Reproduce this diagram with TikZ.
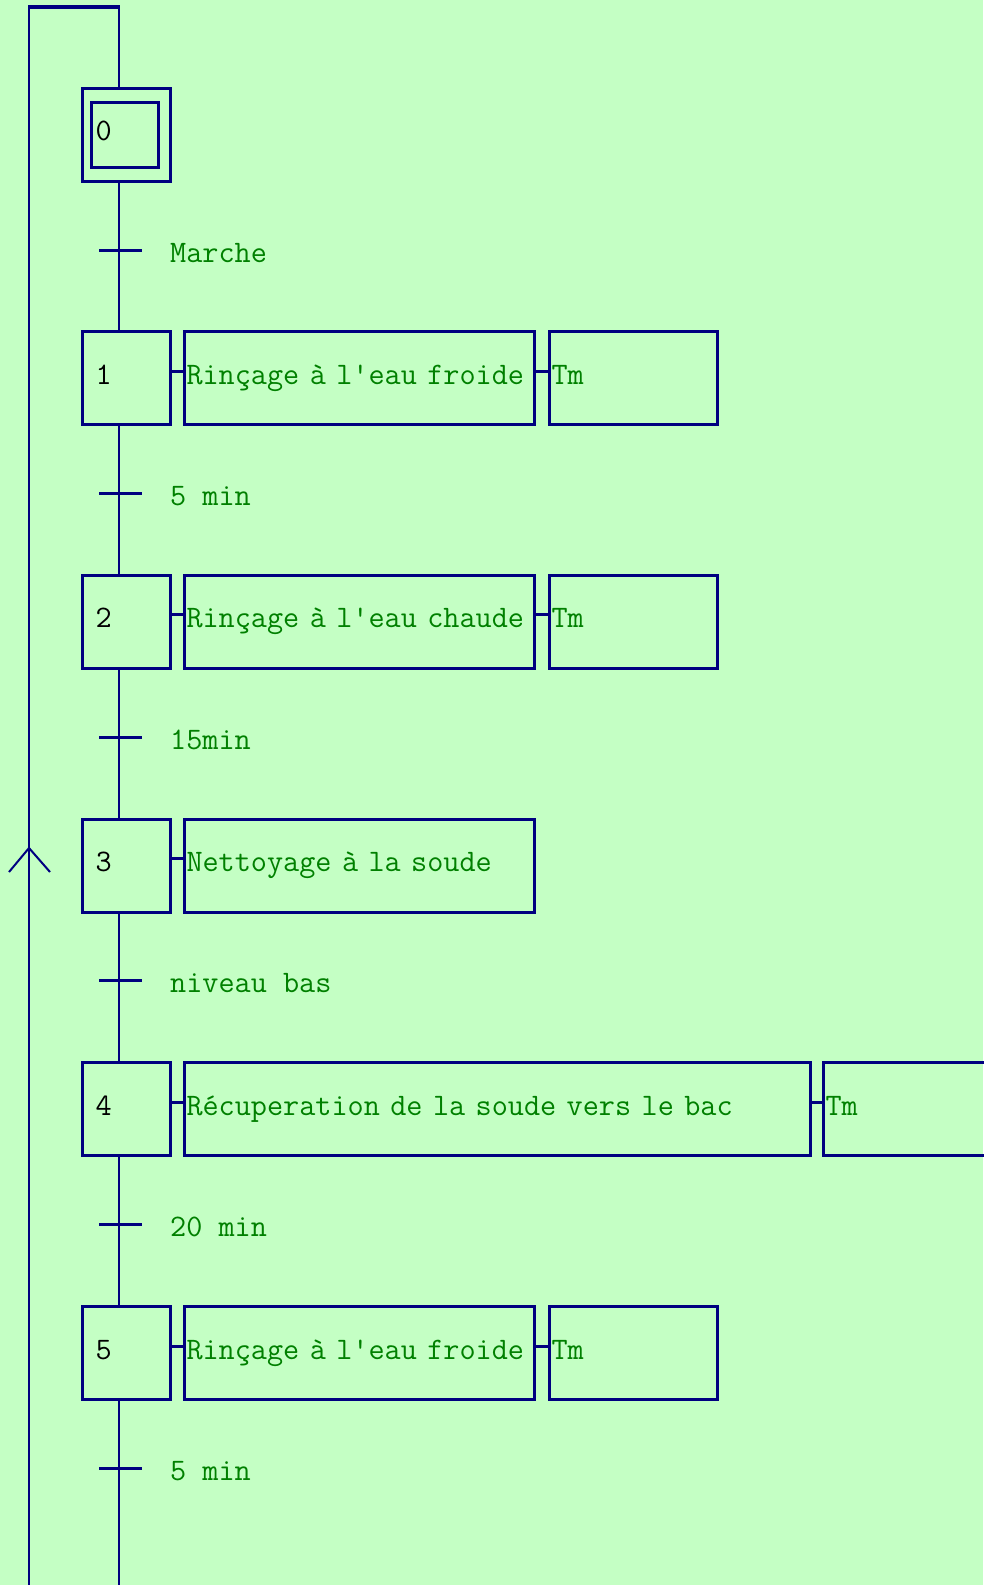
\documentclass[tikz,border=0pt]{standalone}
\usepackage{tikz}
\usetikzlibrary{calc}
\definecolor{bg}{HTML}{C4FFC4}
\definecolor{wire}{HTML}{000080}
\definecolor{txt}{HTML}{008000}
\newcommand{\grafcet}{\fontsize{31.3}{31}\selectfont\ttfamily}
\tikzset{
  ligne/.style={draw=wire, line width=2pt},
  seuil/.style={draw=wire, line width=3pt},
  lien/.style={draw=wire, line width=3pt},
  etape/.style={draw=wire, line width=3pt, inner ysep=0pt, inner xsep=13pt,
    text width=62pt, minimum height=93pt, text height=18pt, text depth=6pt,
    align=left, font=\grafcet, text=black},
  init/.style={draw=wire, line width=3pt, inner sep=0pt,
    minimum width=67pt, minimum height=65pt},
  act/.style={draw=wire, line width=3pt, inner ysep=0pt, inner xsep=2pt,
    minimum height=93pt, text height=18pt, text depth=6pt,
    align=left, font=\grafcet, text=txt, anchor=west},
  recept/.style={inner sep=0pt, font=\grafcet, text=txt, anchor=base west}
}
\begin{document}
\begin{tikzpicture}[x=1pt, y=-1pt]
  \useasboundingbox (0,0) rectangle (983,1585);
  \fill[bg] (0,0) rectangle (983,1585);
  \coordinate (haut) at (119,7);
  \coordinate (gauche) at (29,7);
  \coordinate (bas) at (29,1585);
  \coordinate (fleche) at (29,848);

  % steps
  \foreach \k in {0,...,5}
    \node[etape] (s\k) at (126.5, 134.5+243.7*\k) {\k};
  \node[init] (s0i) at ($(s0)+(-1.5,0.5)$) {};

  % actions
  \node[act, text width=346pt] (a1) at ($(s1.east)+(11,0)$) {Rinçage à l\textquotesingle eau froide};
  \node[act, text width=164pt] (t1) at ($(a1.east)+(12,0)$) {Tm};
  \node[act, text width=346pt] (a2) at ($(s2.east)+(11,0)$) {Rinçage à l\textquotesingle eau chaude};
  \node[act, text width=164pt] (t2) at ($(a2.east)+(12,0)$) {Tm};
  \node[act, text width=346pt] (a3) at ($(s3.east)+(11,0)$) {Nettoyage à la soude};
  \node[act, text width=622pt] (a4) at ($(s4.east)+(11,0)$) {Récuperation de la soude vers le bac};
  \node[act, text width=164pt] (t4) at ($(a4.east)+(10,0)$) {Tm};
  \node[act, text width=346pt] (a5) at ($(s5.east)+(11,0)$) {Rinçage à l\textquotesingle eau froide};
  \node[act, text width=164pt] (t5) at ($(a5.east)+(12,0)$) {Tm};
  \foreach \a/\b in {s1/a1, a1/t1, s2/a2, a2/t2, s3/a3, s4/a4, a4/t4, s5/a5, a5/t5}
    \draw[lien] ($(\a.east)+(0,-7)$) -- ($(\b.west)+(0,-7)$);

  % main line
  \draw[ligne] (haut) -- (haut |- s0.north);
  \foreach \k [remember=\k as \j (initially 0)] in {1,...,5}
    \draw[ligne] (haut |- s\j.south) -- (haut |- s\k.north);
  \draw[ligne] (haut |- s5.south) -- (haut |- bas);

  % transitions
  \foreach \k/\lab in {0/Marche, 1/5 min, 2/15min, 3/niveau bas, 4/20 min, 5/5 min} {
    \coordinate (r\k) at (119, 250+243.6*\k);
    \draw[seuil] ($(r\k)+(-20,0)$) -- ($(r\k)+(23,0)$);
    \node[recept] (c\k) at ($(r\k)+(51,12)$) {\lab};
  }

  % loop back to the initial step
  \draw[ligne] (bas) -- (gauche);
  \draw[ligne, line width=4pt, shorten <=-1pt, shorten >=-1pt] (gauche) -- (haut);
  \draw[ligne] ($(fleche)+(-20,24)$) -- (fleche) -- ($(fleche)+(21,24)$);
\end{tikzpicture}
\end{document}
